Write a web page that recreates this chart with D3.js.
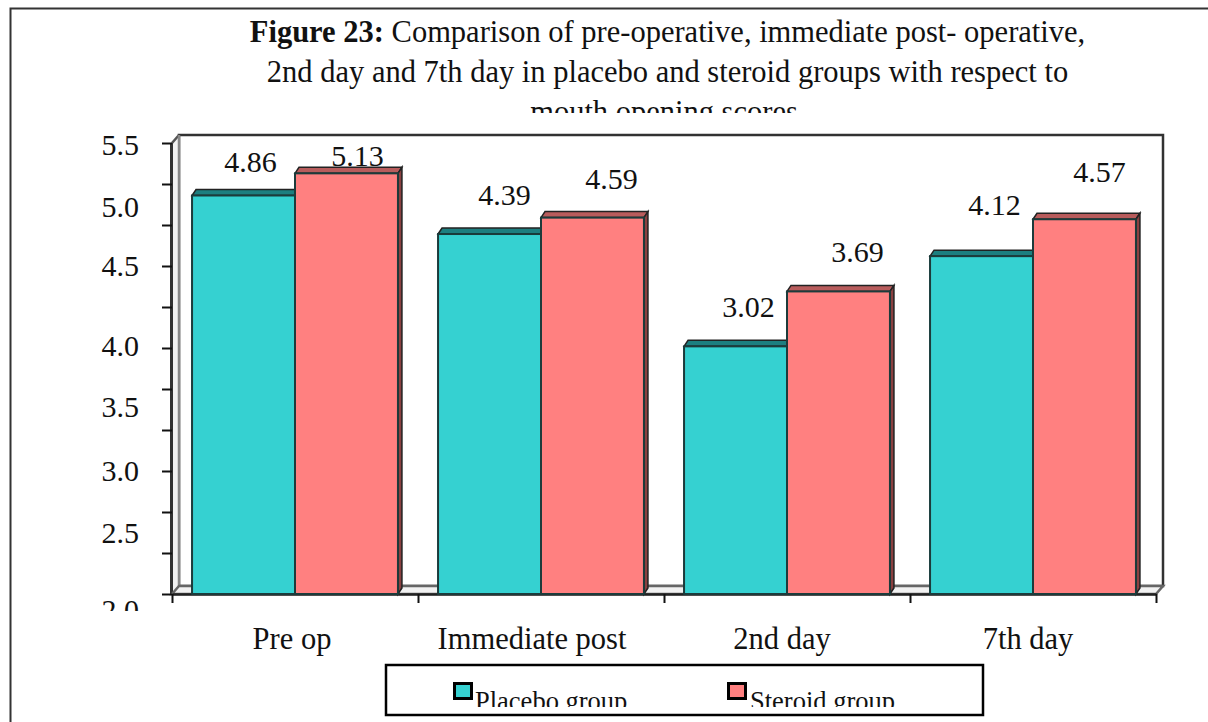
<!DOCTYPE html>
<html><head><meta charset="utf-8">
<script src="https://cdn.jsdelivr.net/npm/d3@7"></script>
<style>
html,body{margin:0;padding:0;background:#fff}
svg{display:block}
text{font-family:"Liberation Serif",serif;fill:#111}
</style></head><body>
<svg id="c" width="1208" height="722"></svg>
<script>
const categories=["Pre op","Immediate post","2nd day","7th day"];
const categoryNudge=[0,-6,-2,-2];
const seriesNames=["Placebo group","Steroid group"];
const placebo=[4.86,4.39,3.02,4.12];
const steroid=[5.13,4.59,3.69,4.57];
const yTickValues=[0,0.5,1,1.5,2,2.5,3,3.5,4,4.5,5,5.5];
const yLabels=["5.5","5.0","4.5","4.0","3.5","3.0","2.5","2.0"];
const yLabelAnchors=[5.5,4.75,4.03,3.05,2.3,1.53,0.77,-0.17];
const labelNudgeX=[[7,11],[15,19],[13,19],[13,15]];
const labelNudgeY=[[-23,-7],[-29,-29],[-29,-29],[-41,-37]];
const titleLines=[[["Figure 23:",true],[" Comparison of pre-operative, immediate post- operative,",false]],
 [["2nd day and 7th day in placebo and steroid groups with respect to",false]],
 [["mouth opening scores",false]]];

const svg=d3.select("#c");
const L=172,R=1156,T=143,B=594,DX=7,DY=8;
const FS=30.5;
const y=d3.scaleLinear().domain([0,5.5]).range([B,T]);
const x0=d3.scaleBand().domain(categories).range([L,R]).paddingInner(0.163).paddingOuter(0.0815);
const x1=d3.scaleBand().domain(seriesNames).range([0,x0.bandwidth()]);
const colors=d3.scaleOrdinal().domain(seriesNames).range(["#36D1D1","#FF8080"]);
const tops=d3.scaleOrdinal().domain(seriesNames).range(["#1F7F80","#B85C5C"]);
const sides=d3.scaleOrdinal().domain(seriesNames).range(["#166566","#8A4040"]);
const defs=svg.append("defs");
[["clipTitle",0,0,1208,113],["clipY",90,130,75,481],["clipLegend",380,660,610,47]].forEach(c=>{
 defs.append("clipPath").attr("id",c[0]).append("rect").attr("x",c[1]).attr("y",c[2]).attr("width",c[3]).attr("height",c[4]);
});
const soft=defs.append("filter").attr("id","soft");
soft.append("feGaussianBlur").attr("stdDeviation",0.7);

// page frame
svg.append("path").attr("d","M1208,8.5H10.5V722").attr("fill","none").attr("stroke","#333").attr("stroke-width",2);

// title
const title=svg.append("g").attr("clip-path","url(#clipTitle)");
titleLines.forEach((ln,i)=>{
 const t=title.append("text").attr("x",[667.5,667.5,664][i]).attr("y",[42,82,122][i]).attr("text-anchor","middle").style("font-size",FS+"px");
 ln.forEach(s=>t.append("tspan").text(s[0]).style("font-weight",s[1]?"bold":"normal"));
});

// 3D walls
const g=svg.append("g").attr("filter","url(#soft)");
g.append("rect").attr("x",L+DX).attr("y",T-DY).attr("width",R-L).attr("height",B-T).attr("fill","#fff").attr("stroke","#333").attr("stroke-width",2.5);
g.append("path").attr("d",`M${L},${T}L${L+DX},${T-DY}V${B-DY}L${L},${B}Z`).attr("fill","#F2F2F2").attr("stroke","none");
g.append("path").attr("d",`M${L},${T}L${L+DX},${T-DY}`).attr("stroke","#555").attr("stroke-width",2.5);
g.append("path").attr("d",`M${L-0.5},${T}V${B}`).attr("stroke","#333").attr("stroke-width",3);
g.append("path").attr("d",`M${L+DX},${T-DY}V${B-DY}`).attr("stroke","#888").attr("stroke-width",2.5);
g.append("path").attr("d",`M${L},${B}L${L+DX},${B-DY}H${R+DX}L${R},${B}Z`).attr("fill","#F2F2F2").attr("stroke","#666").attr("stroke-width",2.5);

// axes
const yAxis=d3.axisLeft(y).tickValues(yTickValues).tickFormat("").tickSize(10).tickSizeOuter(0);
const ya=svg.append("g").attr("transform",`translate(${L},0)`).call(yAxis);
ya.selectAll("line").attr("stroke","#111").attr("stroke-width",2);
ya.select(".domain").attr("stroke","none");
const xTicks=d3.scalePoint().domain(d3.range(categories.length+1)).range([L,R]);
const xAxis=d3.axisBottom(xTicks).tickFormat("").tickSize(9).tickSizeOuter(0);
const xa=svg.append("g").attr("transform",`translate(0,${B})`).call(xAxis);
xa.selectAll("line").attr("stroke","#111").attr("stroke-width",2);
xa.select(".domain").attr("stroke","#222").attr("stroke-width",2.5);

svg.append("g").attr("clip-path","url(#clipY)").selectAll("text").data(yLabels).join("text")
 .attr("x",139).attr("y",(d,i)=>y(yLabelAnchors[i])+12).attr("text-anchor","end")
 .style("font-size","30px").text(d=>d);

svg.append("g").selectAll("text").data(categories).join("text")
 .attr("x",(d,i)=>x0(d)+x0.bandwidth()/2-3+categoryNudge[i]).attr("y",649).attr("text-anchor","middle").style("font-size",FS+"px").text(d=>d);

// value labels (beneath bars so bar tops overlap them)
const values=[placebo,steroid];
const lab=svg.append("g");
const bars=svg.append("g");
categories.forEach((c,ci)=>{
 seriesNames.forEach((s,si)=>{
  const v=values[si][ci],X=x0(c)+x1(s),W=x1.bandwidth(),Y=y(v),dx=4,dy=6;
  const b=bars.append("g").attr("filter","url(#soft)");
  b.append("path").attr("d",`M${X},${Y}l${dx},${-dy}h${W}l${-dx},${dy}Z`).attr("fill",tops(s)).attr("stroke","#222").attr("stroke-width",1.5);
  if(si===1) b.append("path").attr("d",`M${X+W},${Y}l${dx},${-dy}V${B-dy}l${-dx},${dy}Z`).attr("fill",sides(s)).attr("stroke","#222").attr("stroke-width",1.5);
  b.append("rect").attr("x",X).attr("y",Y).attr("width",W).attr("height",B-Y).attr("fill",colors(s)).attr("stroke","#1a3a3a").attr("stroke-width",2);
  lab.append("text").attr("x",X+W/2+labelNudgeX[ci][si]).attr("y",Y+labelNudgeY[ci][si])
    .attr("text-anchor","middle").style("font-size","30px").text(d3.format(".2f")(v));
 });
});

// legend
svg.append("rect").attr("x",386).attr("y",665).attr("width",597).attr("height",50).attr("fill","#fff").attr("stroke","#000").attr("stroke-width",2.5);
const lg=svg.append("g").attr("clip-path","url(#clipLegend)");
seriesNames.forEach((s,i)=>{
 const X=[454.5,728.5][i];
 lg.append("rect").attr("x",X).attr("y",683.5).attr("width",17).attr("height",15).attr("fill",colors(s)).attr("stroke","#000").attr("stroke-width",3);
 lg.append("text").attr("x",X+[20.5,21.5][i]).attr("y",710).style("font-size","26.5px").text(s);
});
</script></body></html>
